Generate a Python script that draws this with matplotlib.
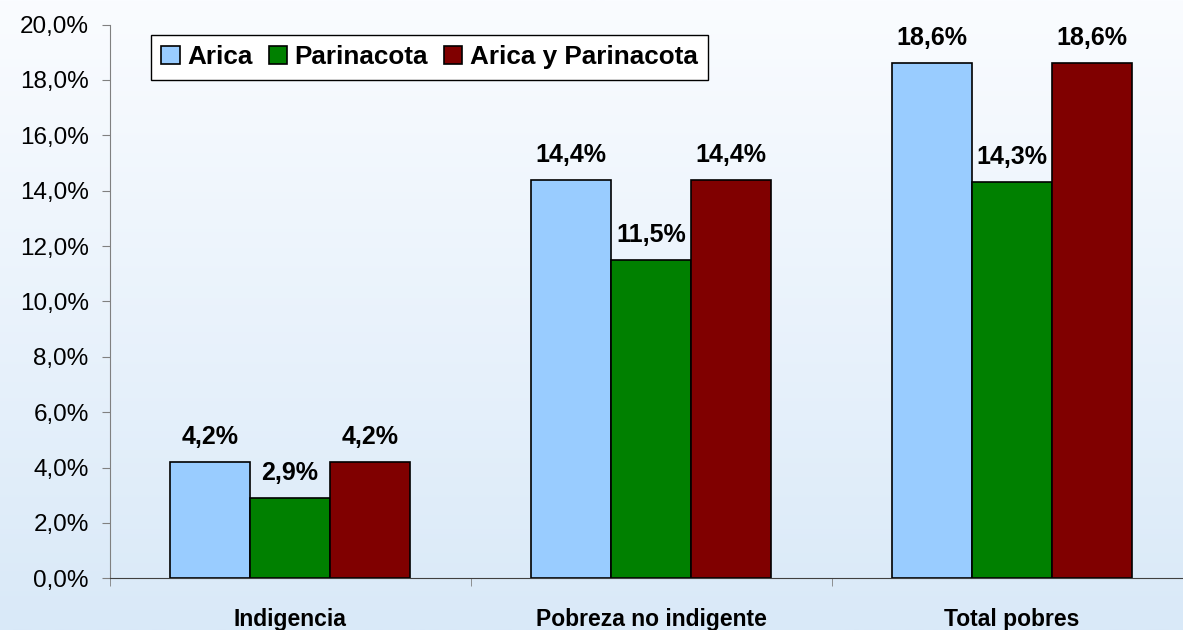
import numpy as np
import matplotlib
matplotlib.use('Agg')
import matplotlib.pyplot as plt

plt.rcParams['font.family'] = ['Liberation Sans', 'DejaVu Sans']

categorias = ['Indigencia', 'Pobreza no indigente', 'Total pobres']
series = ['Arica', 'Parinacota', 'Arica y Parinacota']
arica = [4.2, 14.4, 18.6]
parinacota = [2.9, 11.5, 14.3]
arica_parinacota = [4.2, 14.4, 18.6]
colores = ['#99CCFF', '#008000', '#800000']

fig = plt.figure(figsize=(11.83, 6.3), dpi=100)

# fondo degradado
bg = fig.add_axes([0, 0, 1, 1], zorder=-1)
grad = np.linspace(0, 1, 256).reshape(-1, 1)
top = np.array([0xfa, 0xfc, 0xff]) / 255
bot = np.array([0xd9, 0xe9, 0xf8]) / 255
img = top + (bot - top) * grad[..., None]
bg.imshow(img, aspect='auto', extent=[0, 1, 0, 1])
bg.axis('off')

W, H = 1183, 630
ax = fig.add_axes([109.5 / W, (H - 578.3) / H, 1083 / W, 553.8 / H])
ax.set_facecolor('none')

x = np.arange(len(categorias))
ancho = 0.222
valores = [arica, parinacota, arica_parinacota]
for i, (nombre, vals) in enumerate(zip(series, valores)):
    pos = x + (i - 1) * ancho
    ax.bar(pos, vals, width=ancho, color=colores[i], edgecolor='black',
           linewidth=1.2, label=nombre, zorder=3)
    for px, v in zip(pos, vals):
        ax.annotate(f'{v:.1f}%'.replace('.', ','), (px, v), xytext=(0, 13),
                    textcoords='offset points', ha='center', va='baseline',
                    fontsize=18, fontweight='bold')

ax.set_xlim(-0.5, 2.5)
ax.set_ylim(0, 20)
ax.set_yticks(np.arange(0, 21, 2))
ax.set_yticklabels([f'{t:.1f}%'.replace('.', ',') for t in np.arange(0, 21, 2)])
ax.tick_params(axis='y', length=6, color='#808080', labelsize=17.5, pad=9)

ax.set_xticks(x)
ax.set_xticklabels(categorias, fontsize=16.5, fontweight='bold')
ax.set_xticks([-0.5, 0.5, 1.5], minor=True)
ax.tick_params(axis='x', which='major', length=0, pad=21.5)
ax.tick_params(axis='x', which='minor', length=6, color='#808080')

ax.spines['top'].set_visible(False)
ax.spines['right'].set_visible(False)
ax.spines['left'].set_color('#808080')
ax.spines['bottom'].set_color('#404040')
ax.spines['bottom'].set_zorder(4)

leg = ax.legend(loc='upper left', bbox_to_anchor=((151 - 109.5) / 1083, (578.3 - 35) / 553.8),
                borderaxespad=0, ncol=3, fancybox=False, framealpha=1,
                edgecolor='black', prop={'size': 18.8, 'weight': 'bold'},
                handlelength=0.7, handleheight=0.7, handletextpad=0.3,
                columnspacing=0.6, borderpad=0.4)
leg.get_frame().set_linewidth(1)

fig.savefig('out.png', dpi=100)
